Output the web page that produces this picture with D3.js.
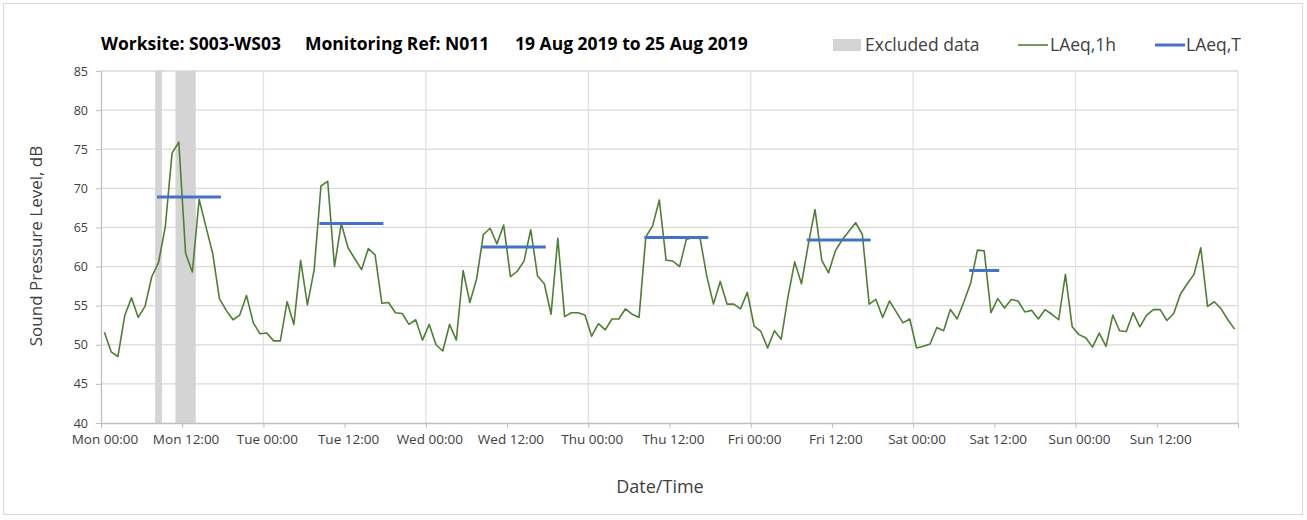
<!DOCTYPE html>
<html><head><meta charset="utf-8">
<script src="https://cdn.jsdelivr.net/npm/d3@7"></script>
<style>
html,body{margin:0;padding:0;background:#fff;}
svg{display:block;font-family:"Open Sans",sans-serif;}
</style></head><body>
<svg id="chart" width="1307" height="520"></svg>
<script>
// ---- data ----
const titleParts = ["Worksite: S003-WS03", "Monitoring Ref: N011", "19 Aug 2019 to 25 Aug 2019"];
const tickLabels = ["Mon 00:00","Mon 12:00","Tue 00:00","Tue 12:00","Wed 00:00","Wed 12:00","Thu 00:00","Thu 12:00","Fri 00:00","Fri 12:00","Sat 00:00","Sat 12:00","Sun 00:00","Sun 12:00",""];
const yTicks = [40,45,50,55,60,65,70,75,80,85];
// hourly LAeq,1h (dB) per day, hour 00..23
const mon = [51.6,49.1,48.5,53.7,56.0,53.5,54.9,58.7,60.5,65.1,74.5,75.9,61.7,59.3,68.6,65.1,61.7,55.9,54.4,53.2,53.8,56.3,52.8,51.4];
const tue = [51.5,50.5,50.5,55.5,52.6,60.8,55.1,59.6,70.3,70.9,60.0,65.5,62.4,61.0,59.6,62.3,61.5,55.3,55.4,54.1,54.0,52.6,53.2,50.6];
const wed = [52.6,50.0,49.2,52.6,50.6,59.5,55.4,58.4,64.1,64.9,62.9,65.3,58.7,59.4,60.7,64.7,58.8,57.8,53.9,63.6,53.6,54.1,54.1,53.8];
const thu = [51.1,52.7,51.9,53.3,53.3,54.6,53.9,53.5,63.8,65.2,68.5,60.8,60.7,60.0,63.5,63.7,63.7,58.8,55.2,58.1,55.2,55.2,54.6,56.7];
const fri = [52.4,51.7,49.6,51.8,50.7,56.1,60.6,57.8,62.8,67.3,60.8,59.2,62.0,63.4,64.5,65.6,64.1,55.2,55.8,53.5,55.6,54.2,52.8,53.3];
const sat = [49.6,49.8,50.1,52.2,51.8,54.5,53.3,55.5,57.9,62.1,62.0,54.1,55.9,54.7,55.8,55.6,54.2,54.4,53.3,54.5,53.9,53.2,59.0,52.3];
const sun = [51.3,50.9,49.7,51.5,49.8,53.8,51.8,51.7,54.1,52.3,53.8,54.5,54.5,53.1,54.0,56.5,57.8,59.0,62.4,54.9,55.5,54.6,53.2,52.0];
// excluded hours [start, end) counted from Mon 00:00
const excludedStart = [8, 11];
const excludedEnd = [9, 14];
// LAeq,T periods
const periodDay = [0,1,2,3,4,5];
const periodStart = [8,8,8,8,8,8];
const periodEnd = [18,18,18,18,18,13];
const periodValue = [68.9,65.5,62.5,63.7,63.4,59.5];

// ---- build ----
const hourly = [].concat(mon, tue, wed, thu, fri, sat, sun);
const svg = d3.select("#chart");
const x = d3.scaleLinear().domain([0, 168]).range([101, 1238]);
const y = d3.scaleLinear().domain([40, 85]).range([423, 71]);

// outer frame
svg.append("rect").attr("x",3.5).attr("y",3.5).attr("width",1299).attr("height",511)
  .attr("fill","#fff").attr("stroke","#d9d9d9");

// gridlines
svg.append("g").selectAll("line").data(yTicks.slice(1)).join("line")
  .attr("x1", x(0)).attr("x2", x(168)).attr("y1", d => y(d)).attr("y2", d => y(d))
  .attr("stroke", "#d9d9d9").attr("stroke-width", 1.3);
svg.append("g").selectAll("line").data(d3.range(24, 169, 24)).join("line")
  .attr("x1", d => x(d)).attr("x2", d => x(d)).attr("y1", y(40)).attr("y2", y(85))
  .attr("stroke", "#e2e2e2").attr("stroke-width", 1.3);

// excluded data
svg.append("g").selectAll("rect").data(excludedStart).join("rect")
  .attr("x", (d,i) => x(d)).attr("width", (d,i) => x(excludedEnd[i]) - x(d))
  .attr("y", y(85)).attr("height", y(40) - y(85)).attr("fill", "#d4d4d4");

// axes
const xAxis = d3.axisBottom(x).tickValues(d3.range(0, 169, 12)).tickSize(5).tickSizeOuter(0)
  .tickFormat((d,i) => tickLabels[i]);
const gx = svg.append("g").attr("transform", `translate(0,${y(40)})`).call(xAxis);
gx.select(".domain").attr("stroke", "#bfbfbf").attr("stroke-width", 1.3);
gx.selectAll(".tick line").attr("stroke", "#bfbfbf");
gx.selectAll(".tick text").attr("dx", x(0.5) - x(0)).attr("y", 11).attr("dy", "0.71em")
  .attr("fill", "#404040").attr("font-size", 13.5).attr("font-family", '"Open Sans",sans-serif');

const yAxis = d3.axisLeft(y).tickValues(yTicks).tickSize(5).tickSizeOuter(0).tickFormat(d3.format("d"));
const gy = svg.append("g").attr("transform", `translate(${x(0)},0)`).call(yAxis);
gy.select(".domain").attr("stroke", "#bfbfbf").attr("stroke-width", 1.3);
gy.selectAll(".tick line").attr("stroke", "#bfbfbf");
gy.selectAll(".tick text").attr("x", -13).attr("fill", "#404040").attr("font-size", 12.5)
  .attr("font-family", '"Open Sans",sans-serif');

// hourly line
const line = d3.line().x((d,i) => x(i + 0.5)).y(d => y(d));
svg.append("path").datum(hourly).attr("d", line).attr("fill", "none")
  .attr("stroke", "#4f7f35").attr("stroke-width", 1.6).attr("stroke-linejoin", "round");

// LAeq,T lines
svg.append("g").selectAll("line").data(periodValue).join("line")
  .attr("x1", (d,i) => x(periodDay[i]*24 + periodStart[i] + 0.5))
  .attr("x2", (d,i) => x(periodDay[i]*24 + periodEnd[i] - 0.5))
  .attr("y1", d => y(d)).attr("y2", d => y(d))
  .attr("stroke", "#4472c4").attr("stroke-width", 3).attr("stroke-linecap", "square");

// title
const titleX = [101, 305, 515];
svg.append("g").selectAll("text").data(titleParts).join("text")
  .attr("x", (d,i) => titleX[i]).attr("y", 50).text(d => d)
  .attr("font-weight", "bold").attr("font-size", 17.5).attr("fill", "#000");

// legend
const lg = svg.append("g").attr("font-size", 17.5).attr("fill", "#404040");
lg.append("rect").attr("x", 833).attr("y", 39).attr("width", 28).attr("height", 12).attr("fill", "#d4d4d4");
lg.append("text").attr("x", 865).attr("y", 51).text("Excluded data");
lg.append("line").attr("x1", 1018).attr("x2", 1048).attr("y1", 45).attr("y2", 45)
  .attr("stroke", "#4f7f35").attr("stroke-width", 1.6);
lg.append("text").attr("x", 1050).attr("y", 51).text("LAeq,1h");
lg.append("line").attr("x1", 1155).attr("x2", 1185).attr("y1", 45).attr("y2", 45)
  .attr("stroke", "#4472c4").attr("stroke-width", 3);
lg.append("text").attr("x", 1186).attr("y", 51).text("LAeq,T");

// axis titles
svg.append("text").attr("x", 660).attr("y", 493).attr("text-anchor", "middle")
  .attr("font-size", 18).attr("fill", "#404040").text("Date/Time");
svg.append("text").attr("transform", "translate(42,246) rotate(-90)").attr("text-anchor", "middle")
  .attr("font-size", 17).attr("fill", "#404040").text("Sound Pressure Level, dB");
</script>
</body></html>
